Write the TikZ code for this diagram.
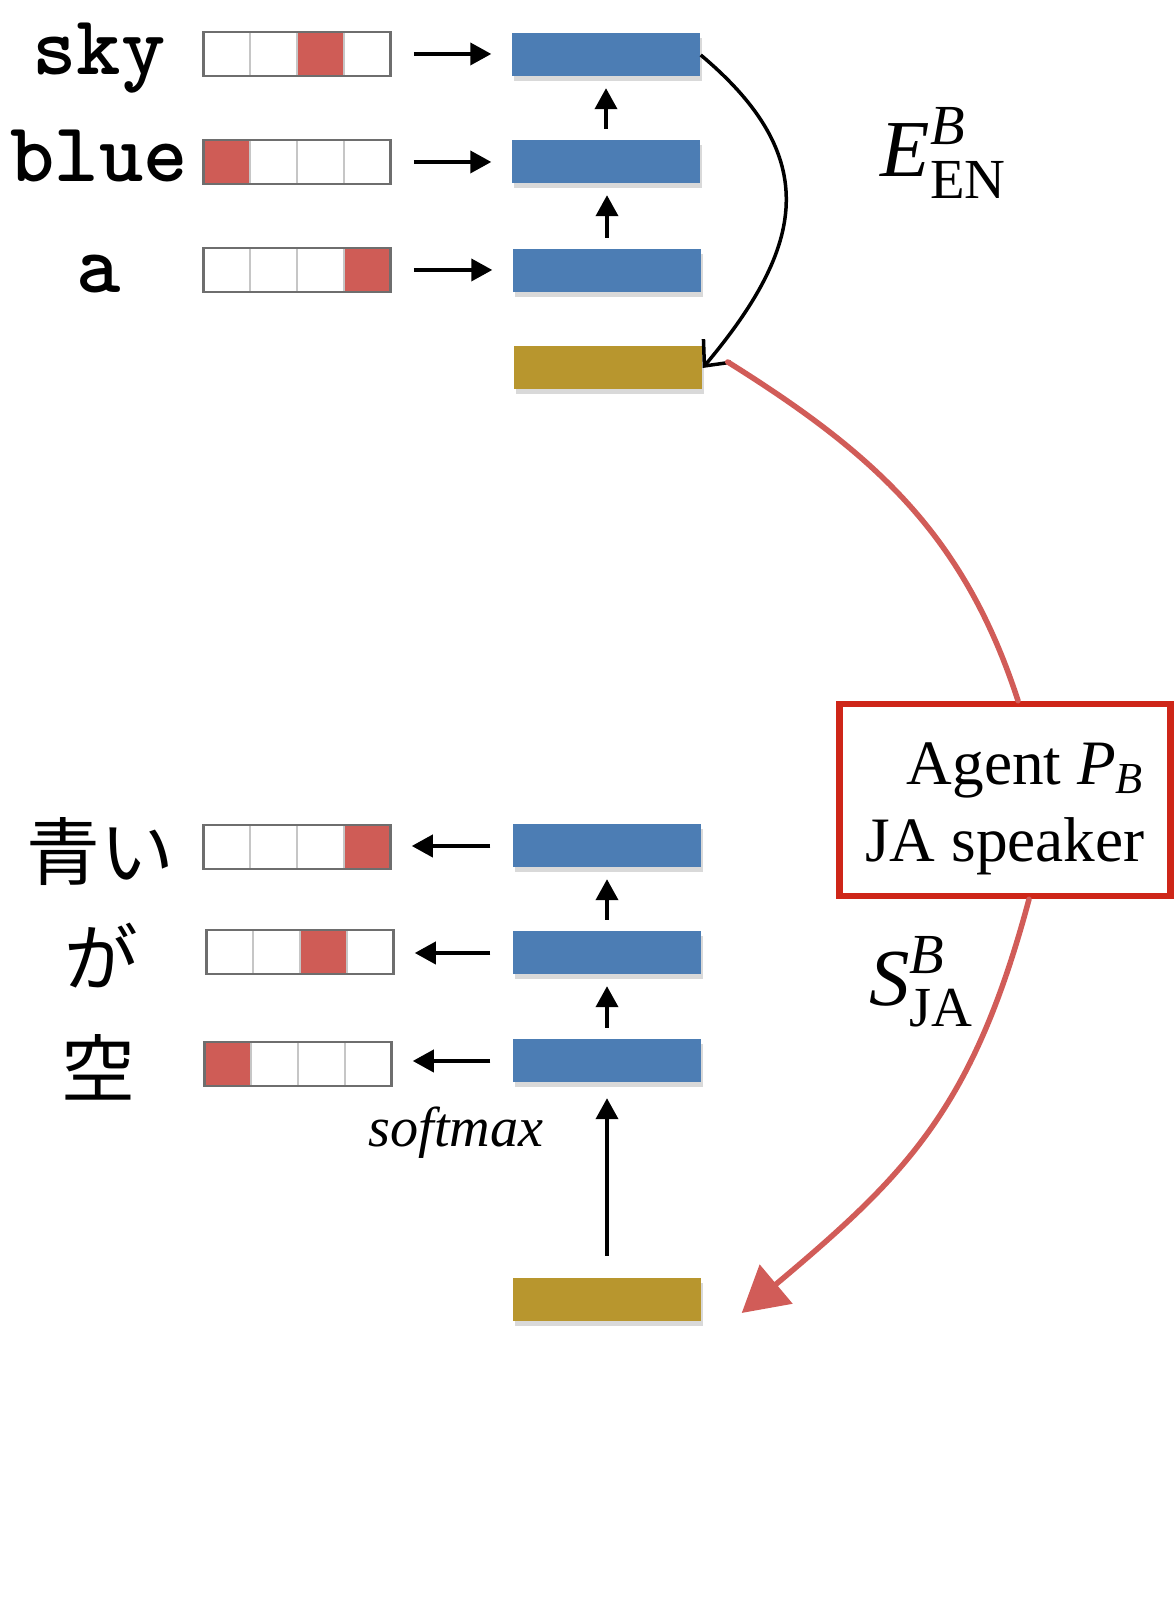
\documentclass[tikz,border=0pt]{standalone}
\usepackage{amsmath}
\usepackage{fontspec}
\setmainfont{Liberation Serif}
\newfontfamily\jafont{Noto Sans CJK JP}
\usetikzlibrary{arrows.meta,calc,shadows}

\definecolor{hidblue}{RGB}{76,125,180}
\definecolor{thoughtgold}{RGB}{184,150,46}
\definecolor{hotred}{RGB}{207,92,86}
\definecolor{sketchred}{RGB}{209,92,88}
\definecolor{agentred}{RGB}{206,38,24}
\definecolor{cellgray}{RGB}{110,110,110}

\tikzset{%
  >={Triangle[width=2.2mm,length=2.1mm]},
  % words, one-hot vectors and hidden states
            word/.style = {font=\fontsize{24}{28}\selectfont\ttfamily\bfseries, anchor=base},
           jword/.style = {font=\fontsize{21}{25}\selectfont\jafont},
          onehot/.style = {rectangle, draw=cellgray, line width=0.25mm,
                           minimum width=1.87cm, minimum height=0.44cm, inner sep=0pt,
                           path picture={
                             \coordinate (sw) at (path picture bounding box.south west);
                             \fill[hotred] ($(sw)+(#1*0.4675-0.4675,0)$) rectangle ++(0.4675,0.44);
                             \foreach \i in {1,2,3}
                               \draw[gray!45, line width=0.2mm] ($(sw)+(\i*0.4675,0)$) -- ++(0,0.44);
                           }},
          hidden/.style = {rectangle, fill=hidblue, minimum width=1.88cm, minimum height=0.43cm,
                           inner sep=0pt,
                           drop shadow={shadow xshift=0.15mm, shadow yshift=-0.5mm, opacity=0.3}},
         thought/.style = {hidden, fill=thoughtgold},
           agent/.style = {rectangle, draw=agentred, line width=0.65mm, align=right,
                           minimum width=3.3cm, minimum height=1.92cm, inner xsep=2.6mm,
                           font=\fontsize{18}{22}\selectfont},
           label/.style = {font=\fontsize{23}{27}\selectfont},
  % connectors
            feed/.style = {->, line width=0.38mm, shorten <=2.2mm, shorten >=2mm},
            lift/.style = {->, line width=0.38mm, shorten <=1.1mm, shorten >=1.1mm},
           recur/.style = {-{Straight Barb[length=2mm,width=3.6mm]}, line width=0.35mm},
          sketch/.style = {draw=sketchred, line width=0.55mm, line cap=round},
}

\begin{document}
\begin{tikzpicture}
  \useasboundingbox (0,0) rectangle (11.75,16);

  % encoder: english sentence
  \node (sky)      [word]      at (0.99,15.25) {sky};
  \node (blue)     [word]      at (0.99,14.18) {blue};
  \node (a)        [word]      at (0.99,13.07) {a};

  \node (sky-vec)  [onehot=3]  at (2.97,15.46) {};
  \node (blue-vec) [onehot=1]  at (2.97,14.38) {};
  \node (a-vec)    [onehot=4]  at (2.97,13.30) {};

  \node (sky-h)    [hidden]    at (6.06,15.45) {};
  \node (blue-h)   [hidden]    at (6.06,14.38) {};
  \node (a-h)      [hidden]    at (6.07,13.29) {};
  \node (enc)      [thought]   at (6.08,12.32) {};

  \node (enc-label) [label]    at (9.44,14.47) {$\textit{E}^{\textit{B}}_{\textup{EN}}$};

  % agent
  \node (agent)    [agent]     at (10.05,8.00)
        {\rule{0pt}{17pt}Agent $\textit{P}_{\textit{B}}$\\JA speaker};

  % decoder: japanese sentence
  \node (aoi)      [jword]     at (1.00,7.48) {青い};
  \node (ga)       [jword]     at (1.01,6.44) {が};
  \node (sora)     [jword]     at (0.98,5.33) {空};

  \node (aoi-vec)  [onehot=4]  at (2.97,7.53) {};
  \node (ga-vec)   [onehot=3]  at (3.00,6.48) {};
  \node (sora-vec) [onehot=1]  at (2.98,5.36) {};

  \node (aoi-h)    [hidden]    at (6.07,7.54) {};
  \node (ga-h)     [hidden]    at (6.07,6.47) {};
  \node (sora-h)   [hidden]    at (6.07,5.39) {};
  \node (dec)      [thought]   at (6.07,3.00) {};

  \node (softmax)  [font=\fontsize{16}{19}\selectfont\itshape] at (4.56,4.67) {softmax};
  \node (dec-label) [label]    at (9.22,6.18) {$\textit{S}^{\textit{B}}_{\textup{JA}}$};

  % encoder arrows
  \draw[feed] (sky-vec.east)  -- (sky-vec.east -| sky-h.west);
  \draw[feed] (blue-vec.east) -- (blue-vec.east -| blue-h.west);
  \draw[feed] (a-vec.east)    -- (a-vec.east -| a-h.west);
  \draw[lift] (a-h.north)     -- (a-h.north |- blue-h.south);
  \draw[lift] (blue-h.north)  -- (blue-h.north |- sky-h.south);
  \draw[recur] (sky-h.east) to[out=-40, in=50, looseness=1.3] (enc.east);

  % message passing through the agent
  \draw[sketch] ([xshift=2.5mm, yshift=0.6mm]enc.east)
      to[out=-32, in=108] ([xshift=1.3mm]agent.north);
  \draw[sketch, -{Triangle[length=4.5mm, width=5mm]}] ([xshift=2.4mm]agent.south)
      to[out=-105, in=40, looseness=1.1] ([xshift=4mm, yshift=-1.3mm]dec.east);

  % decoder arrows
  \draw[feed] (aoi-h.west)    -- (aoi-h.west -| aoi-vec.east);
  \draw[feed] (ga-h.west)     -- (ga-h.west -| ga-vec.east);
  \draw[feed] (sora-h.west)   -- (sora-h.west -| sora-vec.east);
  \draw[lift] (sora-h.north)  -- (ga-h.south);
  \draw[lift] (ga-h.north)    -- (aoi-h.south);
  \draw[->, line width=0.38mm, shorten <=2.2mm, shorten >=1.5mm] (dec.north) -- (sora-h.south);

\end{tikzpicture}
\end{document}
